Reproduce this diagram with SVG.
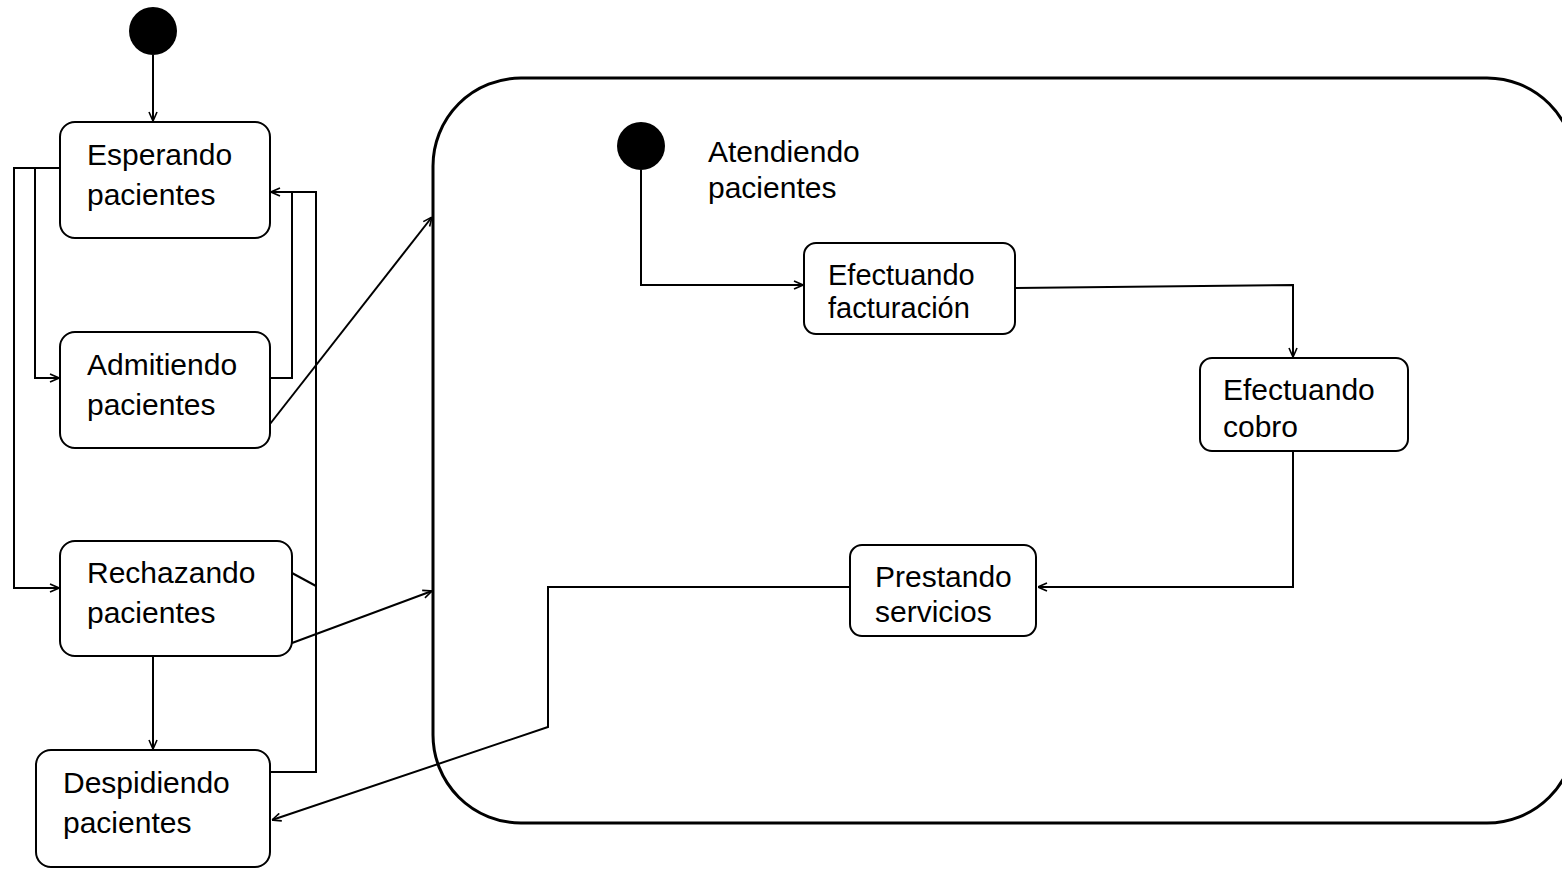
<svg xmlns="http://www.w3.org/2000/svg" width="1562" height="875" viewBox="0 0 1562 875">
<defs>
<marker id="arr" viewBox="0 0 10 10" refX="10" refY="5" markerWidth="10" markerHeight="10" markerUnits="userSpaceOnUse" orient="auto">
<path d="M1,1 L10,5 L1,9" fill="none" stroke="#000" stroke-width="1.6"/>
</marker>
<style>
.box{fill:#fff;stroke:#000;stroke-width:2}
.lbl{font-family:"Liberation Sans",Arial,sans-serif;font-size:30px;fill:#000}
.sm{font-size:29px}
.con{fill:none;stroke:#000;stroke-width:2}
.start{fill:#000}
</style>
</defs>
<rect width="1562" height="875" fill="#fff"/>
<g id="composite">
<rect x="433" y="78" width="1142" height="745" rx="88" ry="88" fill="none" stroke="#000" stroke-width="3"/>
<text class="lbl"><tspan x="708" y="162">Atendiendo</tspan><tspan x="708" y="198">pacientes</tspan></text>
</g>
<g id="start1"><circle class="start" cx="153" cy="31" r="24"/></g>
<g id="start2"><circle class="start" cx="641" cy="146" r="24"/></g>
<g id="esperando"><rect class="box" x="60" y="122" width="210" height="116" rx="15"/><text class="lbl"><tspan x="87" y="165">Esperando</tspan><tspan x="87" y="205">pacientes</tspan></text></g>
<g id="admitiendo"><rect class="box" x="60" y="332" width="210" height="116" rx="15"/><text class="lbl"><tspan x="87" y="375">Admitiendo</tspan><tspan x="87" y="415">pacientes</tspan></text></g>
<g id="rechazando"><rect class="box" x="60" y="541" width="232" height="115" rx="15"/><text class="lbl"><tspan x="87" y="583">Rechazando</tspan><tspan x="87" y="623">pacientes</tspan></text></g>
<g id="despidiendo"><rect class="box" x="36" y="750" width="234" height="117" rx="15"/><text class="lbl"><tspan x="63" y="793">Despidiendo</tspan><tspan x="63" y="833">pacientes</tspan></text></g>
<g id="facturacion"><rect class="box" x="804" y="243" width="211" height="91" rx="12"/><text class="lbl sm"><tspan x="828" y="285">Efectuando</tspan><tspan x="828" y="318">facturación</tspan></text></g>
<g id="cobro"><rect class="box" x="1200" y="358" width="208" height="93" rx="12"/><text class="lbl"><tspan x="1223" y="400">Efectuando</tspan><tspan x="1223" y="437">cobro</tspan></text></g>
<g id="prestando"><rect class="box" x="850" y="545" width="186" height="91" rx="12"/><text class="lbl"><tspan x="875" y="587">Prestando</tspan><tspan x="875" y="622">servicios</tspan></text></g>
<g id="connectors">
<path class="con" d="M153,55 L153,121" marker-end="url(#arr)"/>
<path class="con" d="M60,168 L14,168 L14,588 L59,588" marker-end="url(#arr)"/>
<path class="con" d="M35,168 L35,378 L59,378" marker-end="url(#arr)"/>
<path class="con" d="M270,378 L292,378 L292,192"/>
<path class="con" d="M270,772 L316,772 L316,192 L271,192" marker-end="url(#arr)"/>
<path class="con" d="M292,573 L316,586"/>
<path class="con" d="M270,424 L432,217" marker-end="url(#arr)"/>
<path class="con" d="M292,643 L432,591" marker-end="url(#arr)"/>
<path class="con" d="M153,656 L153,749" marker-end="url(#arr)"/>
<path class="con" d="M850,587 L548,587 L548,727 L272,820" marker-end="url(#arr)"/>
<path class="con" d="M641,170 L641,285 L803,285" marker-end="url(#arr)"/>
<path class="con" d="M1015,288 L1293,285 L1293,357" marker-end="url(#arr)"/>
<path class="con" d="M1293,451 L1293,587 L1038,587" marker-end="url(#arr)"/>
</g>
</svg>
